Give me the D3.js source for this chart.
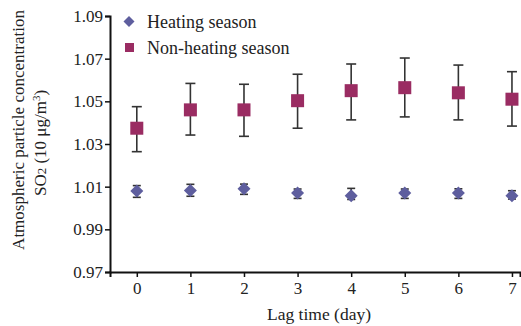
<!DOCTYPE html>
<html><head><meta charset="utf-8">
<script src="https://cdn.jsdelivr.net/npm/d3@7"></script>
<style>body{margin:0;background:#fff}svg{display:block}text{font-family:"Liberation Serif","Times New Roman",serif;fill:#222}</style>
</head><body>
<svg id="c" width="521" height="326"></svg>
<script>
const days = [0,1,2,3,4,5,6,7];
const yTicks = [0.97,0.99,1.01,1.03,1.05,1.07,1.09];
const heatMean = [1.0080,1.0082,1.0090,1.0070,1.0058,1.0070,1.0070,1.0058];
const heatLow  = [1.0050,1.0055,1.0064,1.0045,1.0040,1.0045,1.0045,1.0042];
const heatHigh = [1.0105,1.0111,1.0112,1.0089,1.0092,1.0089,1.0090,1.0081];
const nonMean = [1.0374,1.0460,1.0460,1.0503,1.0550,1.0564,1.0540,1.0510];
const nonLow  = [1.0264,1.0342,1.0336,1.0374,1.0413,1.0427,1.0413,1.0384];
const nonHigh = [1.0475,1.0584,1.0580,1.0627,1.0675,1.0703,1.0670,1.0639];
const seriesNames = ["Heating season","Non-heating season"];
const colors = ["#5e5e9e","#9a2c62"];

const svg = d3.select("#c");
const x = d3.scaleLinear().domain([-0.5,7.15]).range([110,520]);
const y = d3.scaleLinear().domain([0.97,1.09]).range([272,16]);

const diamondPath = (w,h)=>`M0,${-h}L${w},0L0,${h}L${-w},0Z`;

// axes
const xa = svg.append("g").attr("transform","translate(0,272)")
  .call(d3.axisBottom(x).tickValues(days).tickFormat(d3.format("d")).tickSizeOuter(0).tickSize(5));
const ya = svg.append("g").attr("transform","translate(110,0)")
  .call(d3.axisLeft(y).tickValues(yTicks).tickFormat(d3.format(".2f")).tickSizeOuter(0).tickSize(5));
[xa,ya].forEach(a=>{
  a.select(".domain").attr("stroke","#111").attr("stroke-width",2);
  a.selectAll(".tick line").attr("stroke","#111").attr("stroke-width",1.5);
  a.selectAll(".tick text").attr("font-family","Liberation Serif").attr("font-size",17).attr("fill","#222");
});
xa.selectAll(".tick text").attr("dy","0.85em").attr("y",8);
ya.selectAll(".tick text").attr("x",-7);

// error bars
function errBars(mean, low, high, cap){
  const g = svg.append("g").attr("stroke","#333").attr("stroke-width",1.6);
  days.forEach((d,i)=>{
    g.append("line").attr("x1",x(d)).attr("x2",x(d)).attr("y1",y(low[i])).attr("y2",y(high[i]));
    g.append("line").attr("x1",x(d)-cap).attr("x2",x(d)+cap).attr("y1",y(high[i])).attr("y2",y(high[i]));
    g.append("line").attr("x1",x(d)-cap).attr("x2",x(d)+cap).attr("y1",y(low[i])).attr("y2",y(low[i]));
  });
}
errBars(nonMean,nonLow,nonHigh,5);
errBars(heatMean,heatLow,heatHigh,4);

svg.append("g").selectAll("path").data(days).join("path")
  .attr("d",diamondPath(6.5,6.5)).attr("fill",colors[0])
  .attr("transform",(d,i)=>`translate(${x(d)},${y(heatMean[i])})`);
svg.append("g").selectAll("rect").data(days).join("rect")
  .attr("x",d=>x(d)-6.5).attr("y",(d,i)=>y(nonMean[i])-6.5)
  .attr("width",13).attr("height",13).attr("fill",colors[1]);

// legend
const lg = svg.append("g");
lg.append("path").attr("d",diamondPath(5.5,5.5)).attr("fill",colors[0]).attr("transform","translate(129,21.5)");
lg.append("rect").attr("x",125).attr("y",43).attr("width",9).attr("height",9).attr("fill",colors[1]);
lg.append("text").attr("x",147).attr("y",28).attr("font-size",18).text(seriesNames[0]);
lg.append("text").attr("x",147).attr("y",54).attr("font-size",18).text(seriesNames[1]);

// axis titles
svg.append("text").attr("x",319).attr("y",320).attr("text-anchor","middle").attr("font-size",17.5).text("Lag time (day)");
const yt = svg.append("g").attr("transform","translate(0,130) rotate(-90)");
yt.append("text").attr("x",0).attr("y",24).attr("text-anchor","middle").attr("font-size",17).text("Atmospheric particle concentration");
const t2 = yt.append("text").attr("x",-13).attr("y",46).attr("text-anchor","middle").attr("font-size",17);
t2.append("tspan").text("SO");
t2.append("tspan").attr("font-size",13).text("2");
t2.append("tspan").text(" (10 μg/m");
t2.append("tspan").attr("font-size",11).attr("dy",-6).text("3");
t2.append("tspan").attr("dy",6).text(")");
</script>
</body></html>
